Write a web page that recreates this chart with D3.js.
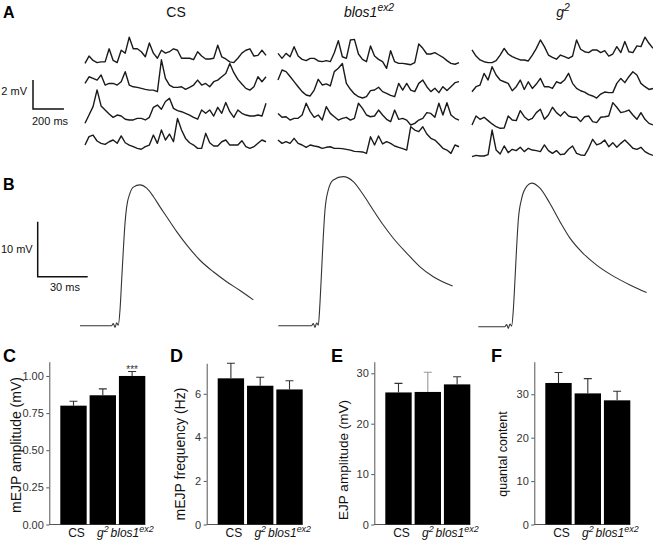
<!DOCTYPE html>
<html><head><meta charset="utf-8">
<script src="https://cdn.jsdelivr.net/npm/d3@7"></script>
<style>
body{margin:0;background:#fff}
svg{display:block;font-family:"Liberation Sans",Arial,Helvetica,sans-serif}
</style>
</head><body>
<svg id="fig" width="653" height="544"></svg>
<script>
// ---------------- DATA ----------------
const barGenotypes = ["CS", "g2", "blos1ex2"];
const traceGenotypes = ["CS", "blos1ex2", "g2"];

// Panel A: spontaneous mEJP traces (mV above row baseline, one sample every traceDt ms)
const traceDt = 26;
const csTraces = [
  [0,0.5,0.2,0.05,0.1,0.1,1.0,0.2,0.05,0.9,0.7,1.8,1.0,1.0,0.8,0.45,1.4,0.7,0.35,0.9,0.7,0.8,1.0,0.9,0.35,0.35,0.35,0.25,0.8,0.5,0.3,0.3,0.35,1.25,0.45,0.3,0.1,0.05,0.35,0.7,0.9,1.0,0.5,0.55,0.9,0.55],
  [0.57,1.03,0.92,0.8,1.15,0.46,0.57,0.57,0.46,0.69,1.38,0.46,0.34,0.3,0.23,0.16,0.11,0.11,0.0,2.2,0.92,0.46,0.3,0.3,0.34,0.16,0.3,0.46,0.8,0.46,0.57,0.34,0.69,0.8,1.03,1.26,1.95,1.31,0.85,0.53,0.23,0.11,0.34,1.03,0.69,1.03],
  [0,0.57,1.15,2.3,1.2,0.92,0.64,0.41,0.57,0.5,0.28,0.23,0.23,0.34,0.34,0.23,0.41,1.1,1.26,0.97,1.5,1.72,1.03,0.87,0.8,0.69,0.57,0.41,0.28,0.92,0.69,0.92,0.5,1.1,0.69,1.43,0.8,0.41,0.92,0.69,0.57,0.5,0.5,0.57,0.5,1.38],
  [0.34,0.92,1.03,0.62,0.46,0.39,0.57,0.69,0.46,0.97,0.5,0.34,0.23,0.11,0.05,0.23,0.34,1.03,0.46,1.38,0.69,1.1,0.57,2.18,1.38,0.8,0.5,0.34,0.11,0.11,1.15,0.5,0.28,0.28,0.57,0.69,0.34,0.34,0.34,0.64,0.23,0.11,0.23,0.46,0.69,0.57]
];
const blosTraces = [
  [0.8,0.46,0.8,0.57,1.26,0.62,0.39,0.3,0.46,0.46,0.28,0.23,0.3,0.23,0.85,1.68,0.57,0.46,1.72,1.77,0.76,0.39,0.23,1.31,0.62,0.39,0.23,-0.23,0.99,0.23,0.11,0.11,0.07,0.02,0.16,1.45,1.15,0.76,0.76,0.85,0.69,0.53,0.3,0.11,0.05,0.16],
  [1.26,1.95,1.84,1.5,1.15,0.8,0.46,0.23,0.16,0.57,1.31,0.92,0.99,0.85,1.84,2.07,2.4,1.03,0.62,0.3,0.11,0.02,0.11,0.53,0.57,0.76,0.46,0.34,0.2,0.11,1.03,0.57,1.03,0.57,0.46,1.03,1.26,0.8,0.46,0.69,0.39,0.8,0.53,0.8,1.08,1.15],
  [0.8,0.53,0.57,0.34,0.46,0.46,0.69,1.5,0.92,0.53,0.69,0.34,1.26,0.8,0.57,0.34,0.46,0.53,0.34,0.46,1.5,1.15,0.69,0.57,0.62,1.03,0.69,0.39,0.23,1.03,0.39,0.46,0.34,0.0,0.11,0.34,0.46,0.85,0.8,0.53,1.5,0.69,1.54,0.69,0.46,0.34],
  [1.03,0.8,0.92,0.8,1.15,0.8,0.69,0.53,0.69,0.62,0.57,0.46,0.53,0.57,0.46,0.46,0.44,0.39,0.34,0.25,0.23,0.21,0.11,1.26,0.69,1.31,0.76,0.92,0.8,0.62,0.53,0.44,0.34,1.95,1.72,1.61,1.95,1.45,1.15,1.03,0.76,0.46,0.34,0.11,0.69,0.57]
];
const g2Traces = [
  [0.92,0.5,0.23,0.11,0.05,0.05,0.18,0.57,1.03,0.64,0.46,0.34,0.23,0.23,0.16,0.57,1.03,1.61,1.15,0.57,0.41,0.28,0.57,0.46,0.34,0.5,1.61,0.97,0.8,0.74,0.92,0.92,0.74,0.87,0.5,0.64,1.15,0.74,1.5,0.8,0.74,1.2,1.15,1.8,1.38,1.03],
  [0.34,0.69,0.8,1.61,1.15,2.07,1.5,1.15,1.03,0.92,0.41,0.69,1.15,0.5,1.03,0.57,0.87,1.26,0.69,0.69,0.57,1.03,0.92,1.15,1.61,0.92,0.57,0.41,0.32,0.14,0.05,-0.09,0.18,0.32,0.28,0.28,0.92,1.26,0.97,1.38,1.72,1.5,0.92,0.69,0.5,0.57],
  [0.23,0.85,0.62,0.76,0.53,0.3,0.11,0,0.02,0.85,0.57,0.53,1.22,0.8,0.57,0.69,1.08,1.31,0.62,0.92,1.45,1.08,0.85,1.15,0.85,0.76,0.76,0.46,0.8,0.85,0.46,0.39,0.76,0.8,0.85,1.77,1.45,1.08,1.15,1.26,0.92,0.62,1.08,0.62,0.34,0.23],
  [0.11,0.2,0.16,0.16,0.25,1.95,0.57,0.3,0.85,0.39,0.62,0.53,0.76,0.46,0.69,0.57,0.53,0.46,0.92,0.53,0.34,0.53,0.25,0.3,0.62,0.85,0.34,0.23,0.2,0.69,1.31,0.92,1.03,1.26,0.8,1.08,0.76,1.03,1.26,0.99,0.69,0.62,0.76,0.46,0.3,0.2]
];

// Panel B: averaged EJPs (time ms, voltage mV)
const csEjpT   = [0,19,20,21,22,23,24,25,26,27,28,30,32,36,40,44,48,52,58,64,72,80,88,96,104];
const csEjpV   = [0,0,0.4,-0.3,0.55,0.1,2.85,8.3,13.8,18.6,21.6,24.1,25.2,25.6,25.0,23.5,21.6,19.8,17.1,14.7,11.9,9.8,8.0,6.4,4.7];
const blosEjpT = [0,20,21,22,23,24,25,26,27,28,30,33,39,45,51,57,63,69,77,85,93,104.6];
const blosEjpV = [0,0,0.4,-0.3,0.5,0.1,4.1,10.1,16.2,21,24.7,26.5,27.1,26.2,23.8,21.0,18.3,15.9,13.2,10.7,8.9,7.2];
const g2EjpT   = [0,16,17,18,19,20,21,22,23,24,26,29,32,37,43,49,55,63,71,81,91,101];
const g2EjpV   = [0,0,0.4,-0.3,0.5,0.1,3.0,8.5,14.5,19.4,23.3,25.5,26.1,25.2,22.4,19.1,16.1,13.3,11.2,9.2,7.6,6.2];

// Panels C-F: means and SEM (order CS, g2, blos1ex2)
const mejpAmp      = [0.80, 0.87, 1.00];
const mejpAmpErr   = [0.03, 0.043, 0.03];
const mejpFreq     = [6.71, 6.37, 6.20];
const mejpFreqErr  = [0.69, 0.39, 0.40];
const ejpAmp       = [26.2, 26.3, 27.8];
const ejpAmpErr    = [1.8, 3.9, 1.5];
const quantal      = [32.6, 30.2, 28.6];
const quantalErr   = [2.4, 3.4, 2.1];
const mejpAmpSig   = ["", "", "***"];

const ticksC = [0, 0.25, 0.5, 0.75, 1.0];
const ticksD = [0, 2, 4, 6];
const ticksE = [0, 10, 20, 30];
const ticksF = [0, 10, 20, 30];

// ---------------- DRAWING ----------------
const svg = d3.select("#fig");
const genoParts = {CS: ["CS", ""], g2: ["g", "2"], blos1ex2: ["blos1", "ex2"]};

function genoText(g, name, x, y, size) {
  const [base, sup] = genoParts[name];
  const t = g.append("text").attr("x", x).attr("y", y)
    .attr("text-anchor", "middle").attr("font-size", size).attr("fill", "#111");
  if (name !== "CS") t.attr("font-style", "italic");
  t.append("tspan").text(base);
  if (sup) t.append("tspan").attr("dy", -size * 0.42).attr("font-size", size * 0.74).text(sup);
  return t;
}
function letter(x, y, s, size) {
  svg.append("text").attr("x", x).attr("y", y).attr("font-weight", "bold")
    .attr("font-size", size).attr("fill", "#000").text(s);
}

// ---- Panel A ----
letter(3, 17.5, "A", 16);
const xA = d3.scaleLinear().domain([0, 45 * traceDt]).range([0, 181]);
const yA = d3.scaleLinear().domain([0, 2]).range([0, -29]);
const lineA = d3.line().x((d, i) => xA(i * traceDt)).y(d => yA(d));
const colsA = [
  {name: "CS", x: 85, base: [63.3, 91.7, 123.3, 150], traces: csTraces},
  {name: "blos1ex2", x: 278, base: [65, 98.3, 125, 155], traces: blosTraces},
  {name: "g2", x: 472, base: [63.3, 96.7, 128.3, 158.3], traces: g2Traces}
];
colsA.forEach(c => {
  genoText(svg, c.name, c.x + 91, 16.5, 14);
  c.traces.forEach((tr, r) => {
    svg.append("path").datum(tr)
      .attr("transform", `translate(${c.x},${c.base[r]})`)
      .attr("d", lineA).attr("fill", "none")
      .attr("stroke", "#1a1a1a").attr("stroke-width", 1.4).attr("stroke-linejoin", "round");
  });
});
// scale bar A
{
  const sx = 33, sy = 109;
  svg.append("path").attr("d", `M${sx},${sy + yA(2)}V${sy}H${sx + xA(200)}`)
    .attr("fill", "none").attr("stroke", "#111").attr("stroke-width", 1.5);
  svg.append("text").attr("x", sx - 6).attr("y", 95).attr("text-anchor", "end")
    .attr("font-size", 11).attr("fill", "#111").text("2 mV");
  svg.append("text").attr("x", sx - 1).attr("y", 124.5)
    .attr("font-size", 11).attr("fill", "#111").text("200 ms");
}

// ---- Panel B ----
letter(3, 190, "B", 16);
const xB = d3.scaleLinear().domain([0, 30]).range([0, 50]);
const yB = d3.scaleLinear().domain([0, 10]).range([0, -55]);
const ejps = [
  {x: 80, y: 325.7, t: csEjpT, v: csEjpV},
  {x: 278.3, y: 325.7, t: blosEjpT, v: blosEjpV},
  {x: 478.3, y: 326.7, t: g2EjpT, v: g2EjpV}
];
const lineB = d3.line().x(d => xB(d[0])).y(d => yB(d[1])).curve(d3.curveMonotoneX);
ejps.forEach(e => {
  svg.append("path").datum(e.t.map((t, i) => [t, e.v[i]]))
    .attr("transform", `translate(${e.x},${e.y})`)
    .attr("d", lineB).attr("fill", "none").attr("stroke", "#333").attr("stroke-width", 1.1);
});
{
  const sx = 37.7, sy = 276.7;
  svg.append("path").attr("d", `M${sx},${sy + yB(10)}V${sy}H${sx + xB(30)}`)
    .attr("fill", "none").attr("stroke", "#111").attr("stroke-width", 1.5);
  svg.append("text").attr("x", sx - 5).attr("y", 253).attr("text-anchor", "end")
    .attr("font-size", 11).attr("fill", "#111").text("10 mV");
  svg.append("text").attr("x", 50).attr("y", 290.5)
    .attr("font-size", 11).attr("fill", "#111").text("30 ms");
}

// ---- Panels C-F ----
const y0 = 524.5;
const panels = [
  {letter: "C", lx: 3, x0: 49.3, top: 361.7, max: 1.096, vals: mejpAmp, errs: mejpAmpErr, ticks: ticksC, fmt: d3.format(".2f"),
   label: "mEJP amplitude (mV)", labX: 16, labY: 445, labSize: 14, sig: mejpAmpSig},
  {letter: "D", lx: 170, x0: 206.7, top: 363.3, max: 7.4, vals: mejpFreq, errs: mejpFreqErr, ticks: ticksD, fmt: d3.format("d"),
   label: "mEJP frequency (Hz)", labX: 180, labY: 454, labSize: 14},
  {letter: "E", lx: 331, x0: 374.3, top: 361.7, max: 32.3, vals: ejpAmp, errs: ejpAmpErr, ticks: ticksE, fmt: d3.format("d"),
   label: "EJP amplitude (mV)", labX: 343, labY: 460, labSize: 13.5, errColor: ["#333", "#999", "#333"]},
  {letter: "F", lx: 491, x0: 534.3, top: 361.7, max: 37.5, vals: quantal, errs: quantalErr, ticks: ticksF, fmt: d3.format("d"),
   label: "quantal content", labX: 502.5, labY: 454, labSize: 12.5}
];
panels.forEach(p => {
  letter(p.lx, 362, p.letter, 18);
  const g = svg.append("g");
  const y = d3.scaleLinear().domain([0, p.max]).range([y0, p.top]);
  const x = d3.scaleBand().domain(barGenotypes).range([p.x0 + 11, p.x0 + 96]).paddingInner(0.1).paddingOuter(0);
  const ax = g.append("g").attr("transform", `translate(${p.x0},0)`)
    .call(d3.axisLeft(y).tickValues(p.ticks).tickFormat(p.fmt).tickSize(3).tickSizeOuter(0).tickPadding(2.5));
  ax.select(".domain").attr("stroke", "#555");
  ax.selectAll(".tick line").attr("stroke", "#555");
  ax.selectAll(".tick text").attr("font-size", 11).attr("fill", "#333")
    .attr("font-family", '"Liberation Sans",Arial,sans-serif');
  g.append("line").attr("x1", p.x0).attr("x2", p.x0 + 96).attr("y1", y0).attr("y2", y0)
    .attr("stroke", "#555");
  g.selectAll("rect.bar").data(barGenotypes).join("rect").attr("class", "bar")
    .attr("x", d => x(d)).attr("width", x.bandwidth())
    .attr("y", (d, i) => y(p.vals[i])).attr("height", (d, i) => y0 - y(p.vals[i]))
    .attr("fill", "#000");
  barGenotypes.forEach((d, i) => {
    const cx = x(d) + x.bandwidth() / 2;
    const col = p.errColor ? p.errColor[i] : "#333";
    g.append("path").attr("d", `M${cx},${y(p.vals[i])}V${y(p.vals[i] + p.errs[i])}M${cx - 4},${y(p.vals[i] + p.errs[i])}h8`)
      .attr("fill", "none").attr("stroke", col).attr("stroke-width", 1.1);
    if (p.sig && p.sig[i]) {
      g.append("text").attr("x", cx).attr("y", y(p.vals[i] + p.errs[i]) + 1.5).attr("text-anchor", "middle")
        .attr("font-size", 10).attr("fill", "#333").text(p.sig[i]);
    }
    genoText(g, d, cx + (i === 0 ? 3 : 0), 537, 12);
  });
  g.append("text").attr("transform", `translate(${p.labX},${p.labY}) rotate(-90)`)
    .attr("text-anchor", "middle").attr("dominant-baseline", "central")
    .attr("font-size", p.labSize).attr("fill", "#111").text(p.label);
});
</script>
</body></html>
